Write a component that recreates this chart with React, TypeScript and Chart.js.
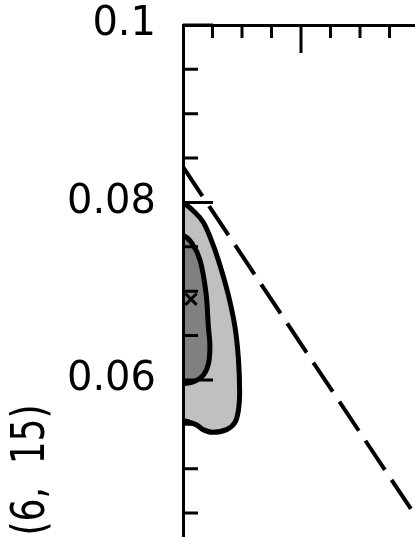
import React, { useEffect, useRef } from "react";
import { Chart, registerables } from "chart.js";

Chart.register(...registerables);

// Axis ranges
const xRange = [0, 1.966];
const yRange = [0.0423, 0.1];

// Tick values
const yTickLabels = [0.06, 0.08, 0.1];
const yMinorTicks = [0.045, 0.05, 0.055, 0.065, 0.07, 0.075, 0.085, 0.09, 0.095];
const xMajorTicks = [1];
const xMinorTicks = [0.25, 0.5, 0.75, 1.25, 1.5, 1.75];

const yTitle = "(6,  15)";

// Outer (light) confidence contour
const outerX = [-0.15, 0, 0.1, 0.17, 0.23, 0.3, 0.38, 0.44, 0.47, 0.48, 0.47, 0.44, 0.37, 0.25, 0.17, 0.12, 0.04, 0, -0.15, -0.15];
const outerY = [0.0799, 0.0799, 0.0789, 0.0778, 0.0761, 0.0735, 0.0698, 0.066, 0.0623, 0.0585, 0.0566, 0.0552, 0.0544, 0.0541, 0.0544, 0.0549, 0.0553, 0.0554, 0.0554, 0.0799];

// Inner (dark) confidence contour
const innerX = [-0.15, 0, 0.076, 0.144, 0.195, 0.215, 0.228, 0.215, 0.17, 0.09, 0, -0.15, -0.15];
const innerY = [0.0763, 0.0763, 0.0754, 0.0735, 0.0698, 0.066, 0.0638, 0.0618, 0.0605, 0.0598, 0.0596, 0.0596, 0.0763];

// Dashed limit line
const dashX = [0, 2.2];
const dashY = [0.084, 0.0401];

// Best-fit marker
const bestX = [0.068];
const bestY = [0.0691];

const zip = (xs: number[], ys: number[]) => xs.map((x, i) => ({ x, y: ys[i] }));

const innerTicksPlugin = {
  id: "innerTicks",
  afterDatasetsDraw(chart: any) {
    const { ctx, chartArea, scales } = chart;
    const xs = scales.x;
    const ys = scales.y;
    ctx.save();
    ctx.strokeStyle = "#000";
    ctx.lineWidth = 3;
    ctx.lineCap = "butt";
    ctx.beginPath();
    const left = chartArea.left;
    const top = chartArea.top;
    yTickLabels.forEach((v) => {
      const p = ys.getPixelForValue(v);
      ctx.moveTo(left, p);
      ctx.lineTo(left + 30, p);
    });
    yMinorTicks.forEach((v) => {
      const p = ys.getPixelForValue(v);
      ctx.moveTo(left, p);
      ctx.lineTo(left + 15, p);
    });
    xMajorTicks.forEach((v) => {
      const p = xs.getPixelForValue(v);
      ctx.moveTo(p, top);
      ctx.lineTo(p, top + 28);
    });
    xMinorTicks.forEach((v) => {
      const p = xs.getPixelForValue(v);
      ctx.moveTo(p, top);
      ctx.lineTo(p, top + 13);
    });
    ctx.stroke();
    ctx.restore();
  },
  afterDraw(chart: any) {
    const { ctx } = chart;
    ctx.save();
    ctx.fillStyle = "#000";
    ctx.font = '36px "DejaVu Sans"';
    ctx.textAlign = "center";
    ctx.textBaseline = "alphabetic";
    ctx.translate(44, 470);
    ctx.rotate(-Math.PI / 2);
    ctx.scale(1, 1.28);
    ctx.fillText(yTitle, 0, 0);
    ctx.restore();
  },
};

export default function App() {
  const ref = useRef<HTMLCanvasElement | null>(null);

  useEffect(() => {
    if (!ref.current) return;
    const chart = new Chart(ref.current, {
      type: "scatter",
      data: {
        datasets: [
          {
            data: zip(bestX, bestY),
            pointStyle: "crossRot",
            pointRadius: 8,
            pointBorderWidth: 3,
            borderColor: "#000",
            backgroundColor: "#000",
            showLine: false,
          } as any,
          {
            data: zip(innerX, innerY),
            showLine: true,
            fill: "shape",
            backgroundColor: "#808080",
            borderColor: "#000",
            borderWidth: 5,
            pointRadius: 0,
            tension: 0.35,
            clip: 0,
          } as any,
          {
            data: zip(outerX, outerY),
            showLine: true,
            fill: "shape",
            backgroundColor: "#c0c0c0",
            borderColor: "#000",
            borderWidth: 5,
            pointRadius: 0,
            tension: 0.35,
            clip: 0,
          } as any,
          {
            data: zip(dashX, dashY),
            showLine: true,
            fill: false,
            borderColor: "#000",
            borderWidth: 4,
            borderDash: [35, 12],
            pointRadius: 0,
            clip: 0,
          } as any,
        ],
      },
      options: {
        animation: false,
        responsive: false,
        maintainAspectRatio: false,
        devicePixelRatio: 1,
        layout: { padding: 0, autoPadding: false },
        plugins: { legend: { display: false }, tooltip: { enabled: false } },
        events: [],
        scales: {
          x: {
            type: "linear",
            position: "top",
            min: xRange[0],
            max: xRange[1],
            grid: { display: false, drawTicks: false },
            ticks: { display: false },
            border: { display: true, color: "#000", width: 3, z: 1 },
            afterFit: (s: any) => {
              s.height = 25;
              s.paddingLeft = 0;
              s.paddingRight = 0;
            },
          },
          y: {
            type: "linear",
            position: "left",
            min: yRange[0],
            max: yRange[1],
            grid: { display: false, drawTicks: false },
            border: { display: true, color: "#000", width: 3, z: 1 },
            ticks: {
              color: "#000",
              padding: 27,
              font: { family: "DejaVu Sans", size: 40 },
              callback: (v: any) => String(Number(v)),
            },
            afterBuildTicks: (s: any) => {
              s.ticks = yTickLabels.map((v) => ({ value: v }));
            },
            afterFit: (s: any) => {
              s.width = 183;
              s.paddingTop = 0;
              s.paddingBottom = 0;
            },
          },
        },
      } as any,
      plugins: [innerTicksPlugin],
    });
    return () => chart.destroy();
  }, []);

  return (
    <div style={{ position: "fixed", left: 0, top: 0, width: 415, height: 537 }}>
      <canvas ref={ref} width={415} height={537} style={{ display: "block", width: 415, height: 537 }} />
    </div>
  );
}
